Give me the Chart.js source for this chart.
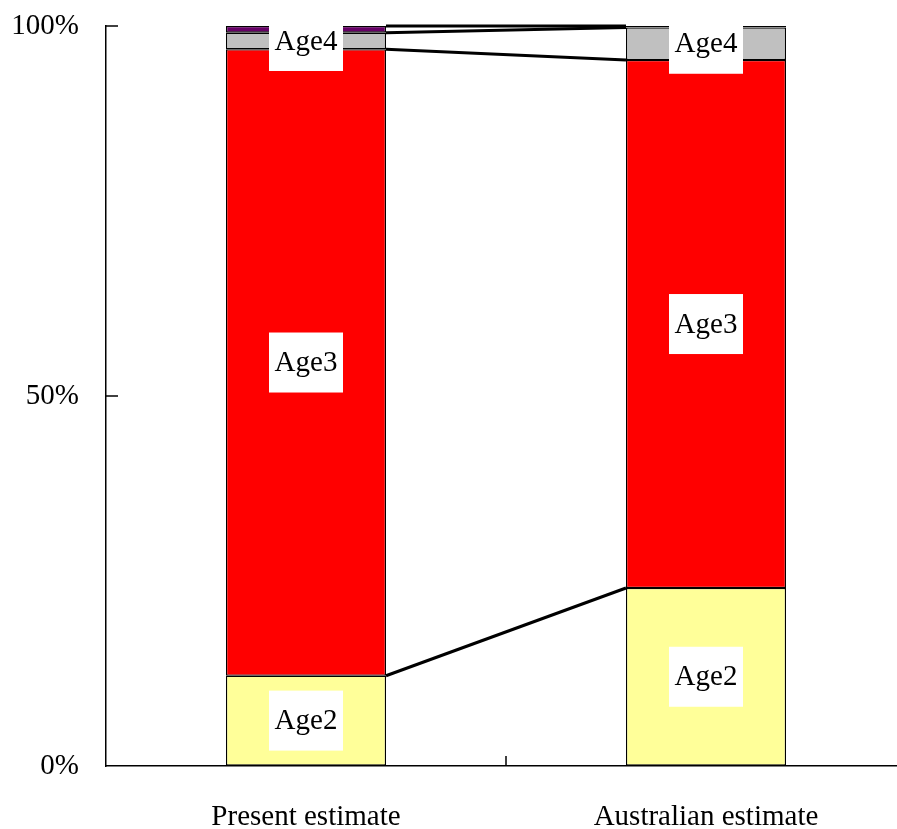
<!DOCTYPE html>
<html>
<head>
<meta charset="utf-8">
<script src="https://cdn.jsdelivr.net/npm/chart.js@4.4.1/dist/chart.umd.min.js"></script>
<style>
    html, body { margin: 0; padding: 0; background: #fff; overflow: hidden; }
    #wrap { width: 910px; height: 829px; }
</style>
</head>
<body>
<div id="wrap"><canvas id="ageChart" width="910" height="829"></canvas></div>
<script>
// categorie e valori (percentuali per classe di eta')
const categories = ['Present estimate', 'Australian estimate'];
const age2 = [12.2, 24.05];
const age3 = [84.65, 71.35];
const age4 = [2.25, 4.4];
const age5 = [0.9, 0.2];
const yTicks = [0, 50, 100];

const seriesNames = ['Age2', 'Age3', 'Age4', 'Age5'];
const seriesColors = ['#FFFF99', '#FF0000', '#C0C0C0', '#660066'];
const seriesData = [age2, age3, age4, age5];
const labelled = [true, true, true, false];

const serif = "'Liberation Serif', 'DejaVu Serif', serif";

// Linee di serie tra le due barre (come in Excel)
const seriesLines = {
    id: 'seriesLines',
    afterDatasetsDraw(chart) {
        const ctx = chart.ctx;
        ctx.save();
        ctx.strokeStyle = '#000';
        ctx.lineWidth = 3;
        chart.data.datasets.forEach((ds, i) => {
            const meta = chart.getDatasetMeta(i);
            const a = meta.data[0];
            const b = meta.data[1];
            const ax = a.x + a.width / 2;
            const bx = b.x - b.width / 2;
            ctx.beginPath();
            ctx.moveTo(ax, a.y);
            ctx.lineTo(bx, b.y);
            ctx.stroke();
        });
        ctx.restore();
    }
};

// Etichette con sfondo bianco al centro di ogni segmento
const boxLabels = {
    id: 'boxLabels',
    afterDatasetsDraw(chart) {
        const ctx = chart.ctx;
        const area = chart.chartArea;
        ctx.save();
        ctx.beginPath();
        ctx.rect(area.left, area.top, area.right - area.left, area.bottom - area.top);
        ctx.clip();
        ctx.font = '29px ' + serif;
        ctx.textAlign = 'center';
        ctx.textBaseline = 'middle';
        chart.data.datasets.forEach((ds, i) => {
            if (!labelled[i]) return;
            chart.getDatasetMeta(i).data.forEach(el => {
                const cy = (el.y + el.base) / 2;
                ctx.fillStyle = '#fff';
                ctx.fillRect(el.x - 37, cy - 30, 74, 60);
                ctx.fillStyle = '#000';
                ctx.fillText(ds.label, el.x, cy + 1);
            });
        });
        ctx.restore();
    }
};

// Tacche interne sugli assi
const innerTicks = {
    id: 'innerTicks',
    afterDraw(chart) {
        const ctx = chart.ctx;
        const x = chart.scales.x;
        const y = chart.scales.y;
        ctx.save();
        ctx.strokeStyle = '#000';
        ctx.lineWidth = 1.5;
        yTicks.forEach(v => {
            if (v === 0) return;
            const py = y.getPixelForValue(v);
            ctx.beginPath();
            ctx.moveTo(x.left, py);
            ctx.lineTo(x.left + 12, py);
            ctx.stroke();
        });
        for (let i = 1; i < categories.length; i++) {
            const px = (x.getPixelForValue(i - 1) + x.getPixelForValue(i)) / 2;
            ctx.beginPath();
            ctx.moveTo(px, y.bottom);
            ctx.lineTo(px, y.bottom - 10);
            ctx.stroke();
        }
        ctx.restore();
    }
};

const datasets = seriesNames.map((name, i) => ({
    label: name,
    data: seriesData[i],
    backgroundColor: seriesColors[i],
    borderColor: '#000',
    borderWidth: 1.3,
    borderSkipped: false,
    categoryPercentage: 1,
    barPercentage: 0.4
}));

new Chart(document.getElementById('ageChart').getContext('2d'), {
    type: 'bar',
    data: {
        labels: categories,
        datasets: datasets
    },
    options: {
        responsive: false,
        animation: false,
        layout: {
            padding: { top: 26, right: 4, left: 0, bottom: 0 }
        },
        scales: {
            x: {
                stacked: true,
                grid: { drawOnChartArea: false, drawTicks: false },
                border: { color: '#000', width: 1.5 },
                ticks: {
                    color: '#000',
                    padding: 34,
                    font: { family: serif, size: 29 }
                },
                afterFit(scale) { scale.height = 63; }
            },
            y: {
                stacked: true,
                min: 0,
                max: 100,
                afterBuildTicks(scale) {
                    scale.ticks = yTicks.map(v => ({ value: v }));
                },
                grid: { drawOnChartArea: false, drawTicks: false },
                border: { color: '#000', width: 1.5 },
                ticks: {
                    color: '#000',
                    padding: 27,
                    font: { family: serif, size: 29 },
                    callback: v => v + '%'
                },
                afterFit(scale) {
                    scale.width = 106;
                    scale.paddingTop = 0;
                    scale.paddingBottom = 0;
                }
            }
        },
        plugins: {
            legend: { display: false },
            tooltip: { enabled: false }
        }
    },
    plugins: [seriesLines, boxLabels, innerTicks]
});
</script>
</body>
</html>
